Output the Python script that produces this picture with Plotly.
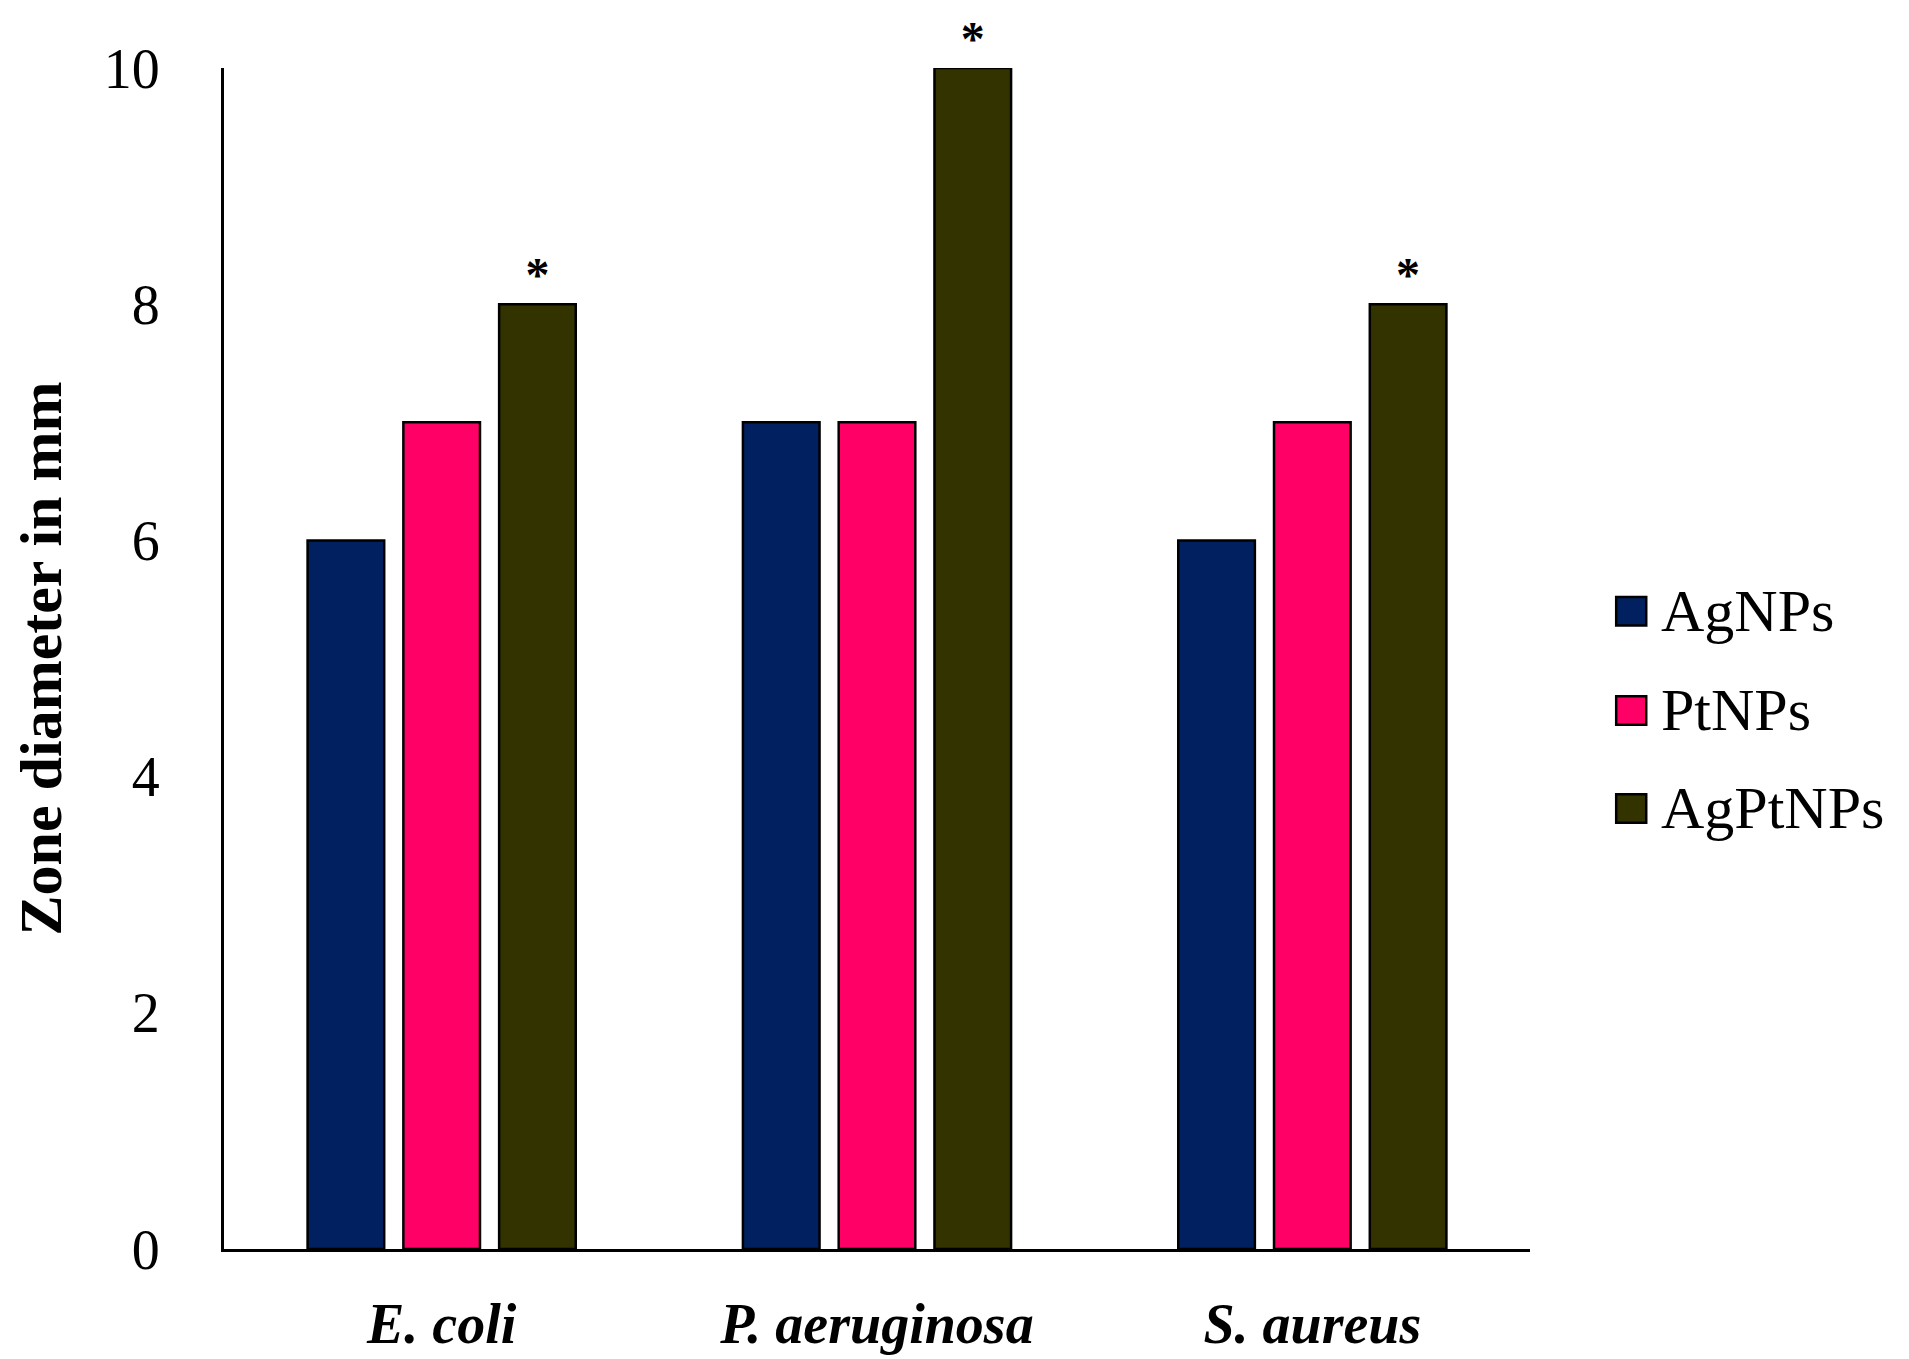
import plotly.graph_objects as go

# zone of inhibition, mm
bacteria = ["<i>E. coli</i>", "<i>P. aeruginosa</i>", "<i>S. aureus</i>"]
series_names = ["AgNPs", "PtNPs", "AgPtNPs"]
agnps = [6, 7, 6]
ptnps = [7, 7, 7]
agptnps = [8, 10, 8]
agptnps_marks = ["*", "*", "*"]
colors = ["#002060", "#FF0066", "#333300"]
y_ticks = [0, 2, 4, 6, 8, 10]

SERIF = "Liberation Serif"

fig = go.Figure()
for name, vals, col, marks in zip(series_names, [agnps, ptnps, agptnps], colors,
                                  [None, None, agptnps_marks]):
    fig.add_trace(go.Bar(
        x=bacteria, y=vals, name=name,
        marker=dict(color=col, line=dict(color="black", width=2.5)),
        text=marks, textposition="outside" if marks else None,
        textfont=dict(family=SERIF, size=48, color="black", weight="bold"),
        cliponaxis=False, showlegend=False,
    ))

# hand-drawn legend, bigger squares than plotly allows
legend_y = [0.540, 0.456, 0.373]
for name, col, ly in zip(series_names, colors, legend_y):
    fig.add_shape(type="rect", xref="paper", yref="paper",
                  x0=1.066, x1=1.089, y0=ly - 0.012, y1=ly + 0.012,
                  fillcolor=col, line=dict(color="black", width=2.5))
    fig.add_annotation(x=1.099, y=ly, xref="paper", yref="paper",
                       text=name, showarrow=False, xanchor="left", yanchor="middle",
                       font=dict(family=SERIF, size=60, color="black"))

fig.update_layout(
    width=1909, height=1359,
    margin=dict(l=216, r=387, t=60, b=96),
    plot_bgcolor="white", paper_bgcolor="white",
    barmode="group", bargap=0.34, bargroupgap=0.2,
    font=dict(family=SERIF, color="black"),
    xaxis=dict(
        showline=True, linecolor="black", linewidth=3,
        ticks="", ticklabelstandoff=24,
        tickfont=dict(family=SERIF, size=56, color="black", weight="bold"),
        range=[-0.5, 2.5],
    ),
    yaxis=dict(
        range=[0, 10], tickvals=y_ticks,
        showline=True, linecolor="black", linewidth=3,
        showgrid=False, zeroline=False, ticks="", ticklabelstandoff=50,
        tickfont=dict(family=SERIF, size=56, color="black"),
        title=dict(text="<b>Zone diameter in mm</b>", standoff=42,
                   font=dict(family=SERIF, size=60, color="black")),
    ),
)

fig.write_html("out.html")
